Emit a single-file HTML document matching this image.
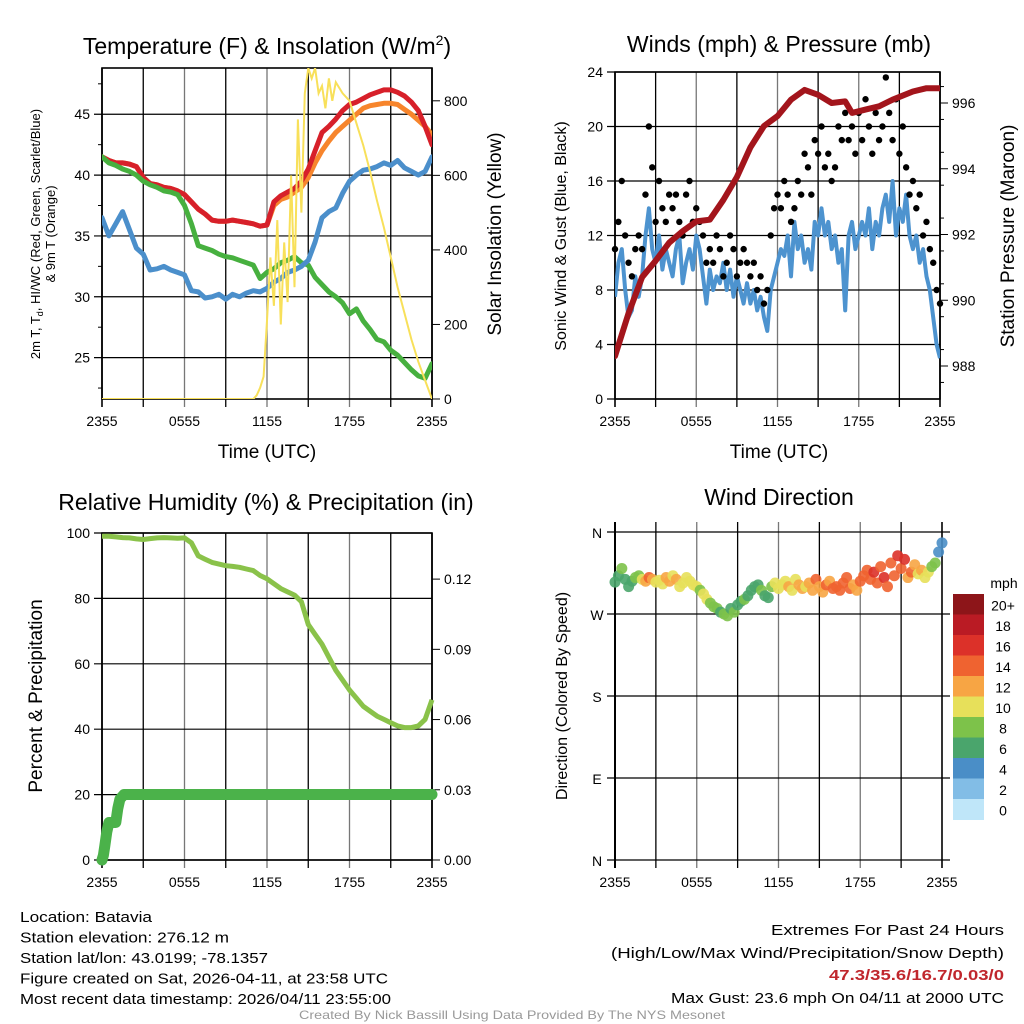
<!DOCTYPE html>
<html><head><meta charset="utf-8"><style>
html,body{margin:0;padding:0;background:#fff;}
svg{display:block;font-family:"Liberation Sans",sans-serif;}
</style></head><body>
<svg id="fig" width="1024" height="1024" viewBox="0 0 1024 1024"></svg>
<script>
// ---------- DATA ----------
const hoursHalf = []; for (let i = 0; i <= 48; i++) hoursHalf.push(i * 0.5);
const hoursQuarter = []; for (let i = 0; i <= 96; i++) hoursQuarter.push(i * 0.25);
const timeTickLabels = ["2355","0555","1155","1755","2355"];

const tempRed = [41.5,41.2,41,41,40.9,40.7,39.8,39.3,39.2,39,38.9,38.7,38.4,37.8,37.2,36.8,36.3,36.2,36.2,36.3,36.2,36.1,36,35.8,35.9,37.8,38.3,38.6,38.9,39.5,40.5,42,43.5,44,44.6,45.3,45.8,46,46.3,46.6,46.8,47,47,46.8,46.5,46,45.3,44,42.5];
const tempOrange = [41.5,41.2,41,41,40.9,40.7,39.8,39.3,39.2,39,38.9,38.7,38.4,37.8,37.2,36.8,36.3,36.2,36.2,36.3,36.2,36.1,36,35.8,35.9,37.5,38,38.2,38.6,39,39.8,41,42,42.8,43.5,44,44.5,45,45.5,45.7,45.8,45.9,45.9,45.8,45.4,45,44.5,44,43.3];
const dewGreen = [41.5,41,40.8,40.5,40.3,40,39.5,39.2,39,38.7,38.6,38.4,37.5,36,34.2,34,33.8,33.5,33.3,33.2,33,32.8,32.6,31.5,32,32.3,32.8,33,33.3,32.8,32.6,31.6,31,30.4,30,29.5,28.6,29,28,27.3,26.5,26.3,25.6,25.2,24.6,24,23.5,23.3,24.5];
const chillBlue = [36.5,35,36,37,35.5,34,33.5,32.2,32.3,32.5,32.2,32,31.8,30.5,30.4,29.9,30,30.2,29.8,30.2,30,30.3,30.5,30.4,30.7,31.2,31.5,32,32.2,32.5,33,34.5,36.5,37,37.3,38.5,39.5,40,40.4,40.5,40.7,41,40.8,41.2,40.6,40.3,40,40.3,41.5];
const solarTimes = [0,11,11.25,11.5,11.75,12,12.25,12.5,12.75,13,13.25,13.5,13.75,14,14.25,14.5,14.75,15,15.25,15.5,15.75,16,16.25,16.5,16.75,17,17.5,18,18.5,19,19.5,20,20.5,21,21.5,22,22.5,23,23.5,24];
const solarValues = [0,0,10,30,60,210,380,250,480,200,420,260,600,300,750,500,820,888,860,888,820,840,780,860,800,850,820,800,740,680,610,532,460,380,300,230,160,100,50,0];

const windSpeed = [7.5,10,11,8,6,6.5,9,7.5,9, 12,14,11,10,12,9.5,11,10, 9,11,12,8.5,10,11,9.5,12, 11,9,7,9.5,8,9,8.5,10, 8,9.5,7.5,9,8,7,8.5,7, 8,6.5,7.5,6,5,8,9,10, 11,10.5,12,9,13,11,12,10, 11,9.5,13,12,14,12,13,11, 12,10,11,6.5,12,13,11,12, 13,12,14,11,13,12,14,15, 13,16,12,14,13,15,12,11, 12,10,11,9,8,6,4,3];
const windGust = [11,13,16,12,10,9,11,12,11, 15,20,17,13,16,14,13,15, 14,15,13,12,15,16,13,14, 13,12,10,11,10,12,11,9, 10,12,11,9,10,11,10,9, 10,8,9,7,8,12,14,15, 14,16,15,13,14,16,15,18, 17,15,19,18,20,17,18,16, 17,20,19,21,19,20,18,21, 19,22,20,18,21,19,20,23.6, 21,19,22,18,20,17,15,16, 14,15,12,13,11,10,8,7];
const pressTimes = [0,1,2,3,4,5,6,7,8,9,10,11,12,13,14,15,16,17,17.5,18.5,19.5,20.5,22,23,24];
const pressValues = [988.3,989.6,990.7,991.2,991.75,992.1,992.4,992.45,993.05,993.75,994.65,995.3,995.6,996.1,996.4,996.25,996.0,996.05,995.7,995.8,995.9,996.1,996.35,996.45,996.45];

const rhValues = [99,99,98.8,98.6,98.5,98.2,98,98.3,98.5,98.6,98.5,98.4,98.5,97,93,92,91,90.5,90,89.8,89.5,89,88.5,87,86,84.5,83,82,81,79,72,69,66,62,58,55,52,49.5,47,45.5,44,43,42,41,40.5,40.5,41,43,49];
const precipTimes = [0,0.1,0.2,0.35,0.5,1.0,1.15,1.3,1.6,24];
const precipValues = [0,0.002,0.006,0.012,0.016,0.016,0.022,0.026,0.028,0.028];

const dirValues = [305,312,320,308,300,306,310,312,308, 306,310,308,305,307,303,310,306, 312,308,300,304,310,306,302,300, 296,292,286,282,278,276,272,270, 268,276,272,280,284,286,290,296, 300,302,296,290,288,300,304,298, 302,306,300,296,308,302,298,300, 304,296,308,300,294,302,306,298, 300,296,304,310,298,302,296,306, 312,318,308,316,304,322,310,300, 326,312,334,320,330,310,316,324, 314,318,310,316,322,326,338,348];
const dirSpeed = [7,7,8,7,6,7,8,9,11, 13,14,12,11,10,11,12,13, 11,12,10,11,10,11,10,11, 9,10,11,9,8,8,7,8, 8,7,8,6,7,8,7,7, 6,7,8,7,6,9,10,11, 10,11,12,11,10,13,12,11, 12,13,14,13,12,14,13,15, 14,15,14,15,14,12,13,15, 14,15,15,16,14,15,17,14, 14,15,16,14,17,13,14,12, 11,12,10,11,8,9,5,4];
const speedBins = ["0","2","4","6","8","10","12","14","16","18","20+"];
const binColors = ["#bfe6f9","#82bde6","#4a8ec7","#4aa56c","#7dc24a","#e7e05a","#f7a544","#ef6330","#dc3129","#ba1b24","#8d1519"];

// ---------- HELPERS ----------
const NS = "http://www.w3.org/2000/svg";
const svg = document.getElementById('fig');
function mk(tag, attrs, parent) {
  const e = document.createElementNS(NS, tag);
  for (const k in attrs) e.setAttribute(k, attrs[k]);
  (parent || svg).appendChild(e);
  return e;
}
function txt(x, y, s, size, anchor, parent, extra) {
  const t = mk('text', Object.assign({x:x, y:y, 'font-size':size, 'text-anchor':anchor||'middle', fill:'#000'}, extra||{}), parent);
  t.textContent = s;
  return t;
}
function scale(d0, d1, r0, r1) { return v => r0 + (v - d0) / (d1 - d0) * (r1 - r0); }
function pathFrom(xs, ys, fx, fy) {
  let d = '';
  for (let i = 0; i < xs.length; i++) d += (i ? 'L' : 'M') + fx(xs[i]).toFixed(1) + ' ' + fy(ys[i]).toFixed(1);
  return d;
}
function panelFrame(g, L, R, T, B, hTicks, fy, opts) {
  const fx = scale(0, 24, L, R);
  for (let h = 0; h <= 24; h += 3) {
    const x = fx(h);
    const l = mk('line', {x1:x, x2:x, y1:opts.noBox ? T - 10 : T, y2:B + 8, stroke: (h % 6 === 0 && h>0 && h<24) ? '#777' : '#000', 'stroke-width': (h===0||h===24)?1.6:1.3}, g);
    
    
  }
  for (let i = 0; i < hTicks.length; i++) {
    const y = fy(hTicks[i]);
    const l = mk('line', {x1:L - 8, x2:opts.noBox ? R + 8 : R, y1:y, y2:y, stroke:'#000', 'stroke-width':1.2}, g);
    
    
  }
  if (!opts.noBox) {
    const r = mk('rect', {x:L, y:T, width:R-L, height:B-T, fill:'none', stroke:'#000', 'stroke-width':1.6}, g);
    
    
  } else {
    mk('line', {x1:L, x2:L, y1:T-10, y2:B+8, stroke:'#000', 'stroke-width':2}, g);
  }
  for (let i = 0; i < timeTickLabels.length; i++) {
    const t = txt(fx(i * 6), B + 27, timeTickLabels[i], 14, 'middle', g);
    
    
  }
  return fx;
}

// ---------- PANEL 1 ----------
(function(){
  const L=102,R=432,T=68,B=399;
  const g = mk('g', {});
  
  
  const fy = scale(21.6, 48.8, B, T);
  const fyR = scale(0, 888, B, T);
  const ticks = [25,30,35,40,45];
  const fx = panelFrame(g, L, R, T, B, ticks, fy, {});
  ticks.forEach(v => { const t = txt(L-12, fy(v)+5, String(v), 14, 'end', g);   });
  for (let v = 22.5; v < 48.8; v += 2.5) if (v % 5) mk('line', {x1:L-4, x2:L, y1:fy(v), y2:fy(v), stroke:'#000'}, g);
  [0,200,400,600,800].forEach(v => {
    mk('line', {x1:R, x2:R+8, y1:fyR(v), y2:fyR(v), stroke:'#000'}, g);
    const t = txt(R+12, fyR(v)+5, String(v), 14, 'start', g);  
  });
  const clip = mk('clipPath', {id:'c1'}, g); mk('rect', {x:L, y:T, width:R-L, height:B-T}, clip);
  const series = [[tempOrange,'#f7852c','orange-9m-temp-line'],[tempRed,'#d7202a','red-temperature-line'],[dewGreen,'#47b03f','green-dewpoint-line'],[chillBlue,'#4b8fcb','blue-windchill-line']];
  series.forEach(s => {
    const p = mk('path', {d:pathFrom(hoursHalf, s[0], fx, fy), fill:'none', stroke:s[1], 'stroke-width':5, 'stroke-linejoin':'round', 'stroke-linecap':'round', 'clip-path':'url(#c1)'}, g);
    
    
  });
  const sp = mk('path', {d:pathFrom(solarTimes, solarValues, fx, fyR), fill:'none', stroke:'#f8e05a', 'stroke-width':2, 'clip-path':'url(#c1)'}, g);
  
  
  const t1 = mk('text', {x:267, y:54, 'font-size':23, 'text-anchor':'middle'}, g);
  t1.innerHTML = 'Temperature (F) &amp; Insolation (W/m<tspan dy="-9" font-size="14">2</tspan><tspan dy="9">)</tspan>';
  
  
  const xl = txt(267, 458, 'Time (UTC)', 19, 'middle', g);  
  const yl = mk('text', {x:0, y:0, 'font-size':13, 'text-anchor':'middle', transform:'translate(40,234) rotate(-90)'}, g);
  yl.innerHTML = '<tspan x="0" dy="0">2m T, T<tspan font-size="9" dy="3">d</tspan><tspan dy="-3">, HI/WC (Red, Green, Scarlet/Blue)</tspan></tspan><tspan x="0" dy="15">&amp; 9m T (Orange)</tspan>';
  
  
  const yr = txt(0, 0, 'Solar Insolation (Yellow)', 19, 'middle', g, {transform:'translate(501,234) rotate(-90)'});
   
})();

// ---------- PANEL 2 ----------
(function(){
  const L=615,R=940,T=72,B=399;
  const g = mk('g', {});
  
  
  const fy = scale(0, 24, B, T);
  const fyR = scale(988, 996, 366, 103);
  const ticks = [0,4,8,12,16,20,24];
  const fx = panelFrame(g, L, R, T, B, ticks, fy, {});
  ticks.forEach(v => { const t = txt(L-12, fy(v)+5, String(v), 14, 'end', g);   });
  for (let v = 988; v <= 996; v += 2) {
    mk('line', {x1:R, x2:R+8, y1:fyR(v), y2:fyR(v), stroke:'#000'}, g);
    const t = txt(R+12, fyR(v)+5, String(v), 14, 'start', g);  
  }
  for (let v = 987.5; v < 997; v += 1) mk('line', {x1:R, x2:R+4, y1:fyR(v), y2:fyR(v), stroke:'#000'}, g);
  const clip = mk('clipPath', {id:'c2'}, g); mk('rect', {x:L, y:T, width:R-L, height:B-T}, clip);
  const wp = mk('path', {d:pathFrom(hoursQuarter, windSpeed, fx, fy), fill:'none', stroke:'#4d93cf', 'stroke-width':4, 'stroke-linejoin':'round', 'clip-path':'url(#c2)'}, g);
  
  
  for (let i = 0; i < windGust.length; i++) {
    const c = mk('circle', {cx:fx(hoursQuarter[i]), cy:fy(windGust[i]), r:3.2, fill:'#000'}, g);
    
    
  }
  const pp = mk('path', {d:pathFrom(pressTimes, pressValues, fx, fyR), fill:'none', stroke:'#a3151c', 'stroke-width':6, 'stroke-linejoin':'round', 'stroke-linecap':'round', 'clip-path':'url(#c2)'}, g);
  
  
  const t1 = txt(779, 52, 'Winds (mph) & Pressure (mb)', 23, 'middle', g);  
  const xl = txt(779, 458, 'Time (UTC)', 19, 'middle', g);  
  const yl = txt(0, 0, 'Sonic Wind & Gust (Blue, Black)', 16, 'middle', g, {transform:'translate(566,236) rotate(-90)'});  
  const yr = txt(0, 0, 'Station Pressure (Maroon)', 19, 'middle', g, {transform:'translate(1014,236) rotate(-90)'});  
})();

// ---------- PANEL 3 ----------
(function(){
  const L=102,R=432,T=533,B=860;
  const g = mk('g', {});
  
  
  const fy = scale(0, 100, B, T);
  const fyR = scale(0, 0.1397, B, T);
  const ticks = [0,20,40,60,80,100];
  const fx = panelFrame(g, L, R, T, B, ticks, fy, {});
  ticks.forEach(v => { const t = txt(L-12, fy(v)+5, String(v), 14, 'end', g);   });
  [0,0.03,0.06,0.09,0.12].forEach(v => {
    mk('line', {x1:R, x2:R+8, y1:fyR(v), y2:fyR(v), stroke:'#000'}, g);
    const t = txt(R+12, fyR(v)+5, v.toFixed(2), 14, 'start', g);  
  });
  const clip = mk('clipPath', {id:'c3'}, g); mk('rect', {x:L-6, y:T-6, width:R-L+12, height:B-T+12}, clip);
  const rp = mk('path', {d:pathFrom(hoursHalf, rhValues, fx, fy), fill:'none', stroke:'#8ac24a', 'stroke-width':5, 'stroke-linejoin':'round', 'clip-path':'url(#c3)'}, g);
  
  
  const pp = mk('path', {d:pathFrom(precipTimes, precipValues, fx, fyR), fill:'none', stroke:'#4bb24a', 'stroke-width':11, 'stroke-linejoin':'round', 'stroke-linecap':'round', 'clip-path':'url(#c3)'}, g);
  
  
  const t1 = txt(266, 510, 'Relative Humidity (%) & Precipitation (in)', 23, 'middle', g);  
  const yl = txt(0, 0, 'Percent & Precipitation', 19, 'middle', g, {transform:'translate(42,696) rotate(-90)'});  
})();

// ---------- PANEL 4 ----------
(function(){
  const L=615,R=942,T=532,B=860;
  const g = mk('g', {});
  
  
  const fy = scale(0, 360, B, T);
  const ticks = [0,90,180,270,360];
  const fx = panelFrame(g, L, R, T, B, ticks, fy, {noBox:true});
  const names = ['N','E','S','W','N'];
  ticks.forEach((v,i) => { const t = txt(597, fy(v)+6, names[i], 14, 'middle', g);   });
  function binOf(s){ return Math.max(0, Math.min(10, Math.floor(s/2))); }
  for (let i = 0; i < dirValues.length; i++) {
    const c = mk('circle', {cx:fx(hoursQuarter[i]), cy:fy(dirValues[i]), r:5.5, fill:binColors[binOf(dirSpeed[i])], 'fill-opacity':0.9}, g);
    
    
  }
  const t1 = txt(779, 505, 'Wind Direction', 23, 'middle', g);  
  const yl = txt(0, 0, 'Direction (Colored By Speed)', 16, 'middle', g, {transform:'translate(567,696) rotate(-90)'});  
  const cb = mk('g', {}, g);
  
  
  const bh = 20.5;
  for (let k = 0; k < speedBins.length; k++) {
    const idx = 10 - k;
    const y = 594 + k * bh;
    const r = mk('rect', {x:953, y:y, width:31, height:bh+0.5, fill:binColors[idx]}, cb);
    
    
    const t = txt(1003, y + bh/2 + 6, speedBins[idx], 14, 'middle', cb);
    
    
  }
  const u = txt(1004, 588, 'mph', 14, 'middle', cb);  
})();

// ---------- FOOTER TEXT ----------
(function(){
  const g = mk('g', {});
  
  
  const lines = [['Location: Batavia',132],['Station elevation: 276.12 m',209],['Station lat/lon: 43.0199; -78.1357',248],['Figure created on Sat, 2026-04-11, at 23:58 UTC',368],['Most recent data timestamp: 2026/04/11 23:55:00',371]];
  lines.forEach((l,i) => {
    const t = txt(20, 922 + i*20.5, l[0], 15, 'start', g, {textLength:l[1], lengthAdjust:'spacingAndGlyphs'});
    
    
  });
  const g2 = mk('g', {});
  
  
  const ex = [['Extremes For Past 24 Hours',233,935,'#000','normal'],['(High/Low/Max Wind/Precipitation/Snow Depth)',393,958,'#000','normal'],['47.3/35.6/16.7/0.03/0',175,980,'#c0272d','bold'],['Max Gust: 23.6 mph On 04/11 at 2000 UTC',333,1003,'#000','normal']];
  ex.forEach(e => {
    const t = txt(1004, e[2], e[0], 15, 'end', g2, {textLength:e[1], lengthAdjust:'spacingAndGlyphs', fill:e[3], 'font-weight':e[4]});
    
    
  });
  const cr = txt(512, 1019, 'Created By Nick Bassill Using Data Provided By The NYS Mesonet', 12, 'middle', svg, {fill:'#999', textLength:426, lengthAdjust:'spacingAndGlyphs'});
  
  
})();
</script>
</body></html>
